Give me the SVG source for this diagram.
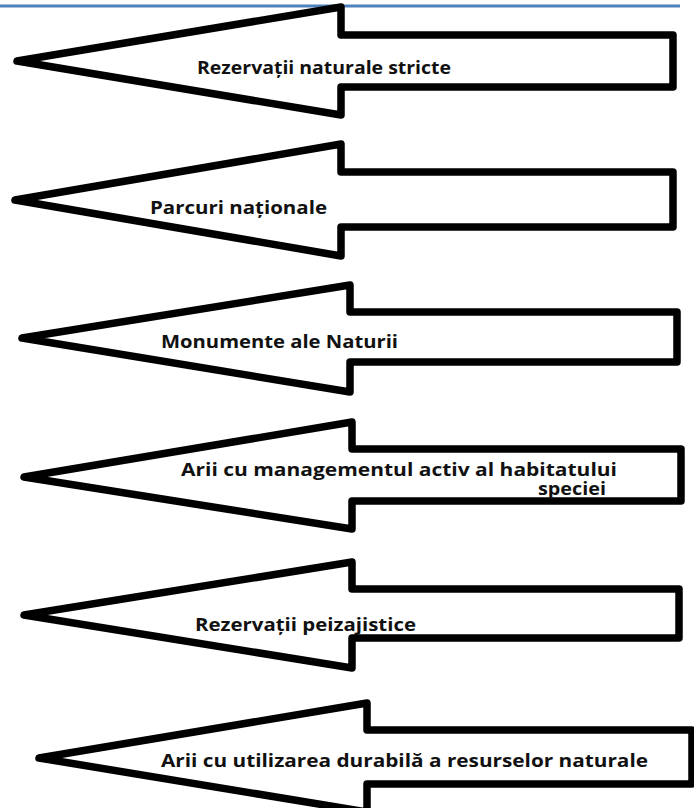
<svg xmlns="http://www.w3.org/2000/svg" width="694" height="808" viewBox="0 0 694 808">
  <style>
    .arrow { fill: #ffffff; stroke: #000000; stroke-width: 7.5; stroke-linejoin: round; }
    .label { font-family: "Open Sans", "Liberation Sans", sans-serif; font-weight: 700; font-size: 17px; fill: #111111; }
  </style>
  <rect x="0" y="0" width="694" height="808" fill="#ffffff"/>
  <!-- header rule -->
  <line x1="0" y1="6" x2="680" y2="6" stroke="#4f81bd" stroke-width="3"/>

  <g id="node-rezervatii-stricte">
    <path class="arrow" d="M17,61 L341,7 L341,35 L673,35 L673,87 L341,87 L341,115 Z"/>
    <text class="label" x="197" y="74" textLength="254" lengthAdjust="spacingAndGlyphs">Rezervații naturale stricte</text>
  </g>

  <g id="node-parcuri">
    <path class="arrow" d="M15,200 L341,144 L341,172 L673,172 L673,227 L341,227 L341,256 Z"/>
    <text class="label" x="150" y="214" textLength="177" lengthAdjust="spacingAndGlyphs">Parcuri naționale</text>
  </g>

  <g id="node-monumente">
    <path class="arrow" d="M22,338 L350,285 L350,312 L677,312 L677,362 L350,362 L350,392 Z"/>
    <text class="label" x="161" y="348" textLength="237" lengthAdjust="spacingAndGlyphs">Monumente ale Naturii</text>
  </g>

  <g id="node-management-activ">
    <path class="arrow" d="M24,477 L352,422 L352,449 L681,449 L681,501 L352,501 L352,529 Z"/>
    <text class="label" x="181" y="476" textLength="436" lengthAdjust="spacingAndGlyphs">Arii cu managementul activ al habitatului</text>
    <text class="label" x="538" y="495" textLength="68" lengthAdjust="spacingAndGlyphs">speciei</text>
  </g>

  <g id="node-peizajistice">
    <path class="arrow" d="M24,615 L352,562 L352,589 L679,589 L679,638 L352,638 L352,668 Z"/>
    <text class="label" x="195" y="631" textLength="221" lengthAdjust="spacingAndGlyphs">Rezervații peizajistice</text>
  </g>

  <g id="node-utilizare-durabila">
    <path class="arrow" d="M39,758 L367,703 L367,730 L692,730 L692,784 L367,784 L367,812 Z"/>
    <text class="label" x="161" y="767" textLength="487" lengthAdjust="spacingAndGlyphs">Arii cu utilizarea durabilă a resurselor naturale</text>
  </g>

  <g id="connectors"/>
</svg>
